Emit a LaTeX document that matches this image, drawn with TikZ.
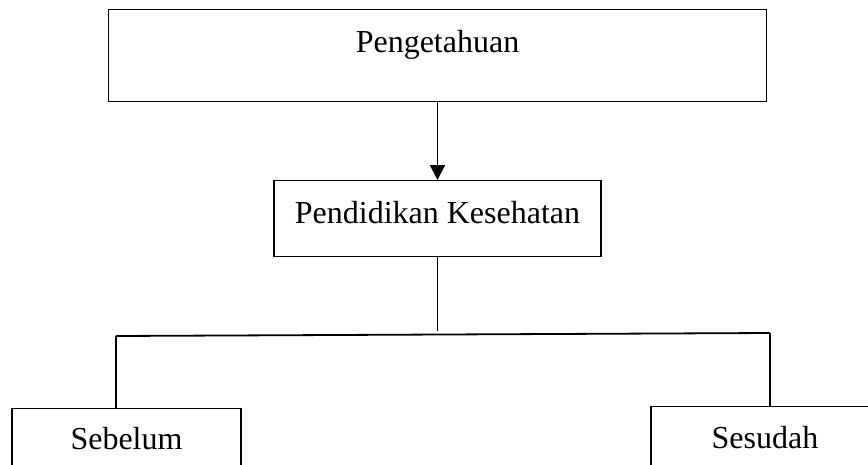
\documentclass[tikz,border=0pt]{standalone}
\usepackage{fontspec}
\setmainfont{Liberation Serif}
\usetikzlibrary{arrows.meta,positioning,calc}
\tikzset{
  box/.style={draw=black,line width=1.3pt,anchor=north,inner xsep=0pt,
    inner ysep=0pt,text height=43pt,align=center,
    font=\fontsize{32}{38}\selectfont},
  link/.style={line width=1.8pt,black},
  arrow/.style={-{Triangle[width=15pt,length=15pt]},line width=1.8pt,black}
}
\begin{document}
\begin{tikzpicture}[x=1pt,y=-1pt]
  \useasboundingbox (0,0) rectangle (868,464);
  \node[box,minimum width=658pt,text depth=49pt] (know) at (437.5,9) {Pengetahuan};
  \node[box,minimum width=327pt,text depth=33pt] (edu) at (437.5,180) {Pendidikan Kesehatan};
  \node[box,minimum width=229pt,text height=41pt,text depth=60pt] (before) at (126.5,408) {Sebelum};
  \node[box,minimum width=228pt,text height=42pt,text depth=60pt] (after) at (765,406) {Sesudah};
  \coordinate (j) at (437.5,331);
  \coordinate (hl) at (116,336);
  \coordinate (hr) at (770,333);
  \draw[arrow] (know.south) -- (edu.north);
  \draw[link] (edu.south) -- (j);
  \draw[link] (hl) -- (hr);
  \draw[link] (hl) -- (hl |- before.north);
  \draw[link] (hr) -- (hr |- after.north);
\end{tikzpicture}
\end{document}
